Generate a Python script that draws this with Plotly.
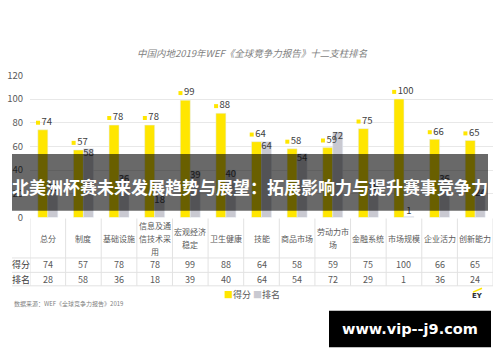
import plotly.graph_objects as go

categories = ["总分", "制度", "基础设施", "信息及通<br>信技术采<br>用", "宏观经济<br>稳定", "卫生健康",
              "技能", "商品市场", "劳动力市<br>场", "金融系统", "市场规模", "企业活力", "创新能力"]
score = [74, 57, 78, 78, 99, 88, 64, 58, 59, 75, 100, 66, 65]
rank = [28, 58, 36, 18, 39, 40, 64, 54, 72, 29, 1, 36, 24]
row_labels = ["得分", "排名"]
title_text = "中国内地2019年WEF《全球竞争力报告》十二支柱排名"
banner_text = "北美洲杯赛未来发展趋势与展望：拓展影响力与提升赛事竞争力"
source_text = "数据来源：WEF《全球竞争力报告》2019"
watermark_text = "www.vip--j9.com"

YELLOW = "#FFE600"
GRAY = "#C9C9D1"
FONT = "Noto Sans CJK SC"
W, H = 500, 362

def py(px):
    return 1 - px / H

def ann(x, y, text, size, color, xref="paper", family=FONT, xanchor="center"):
    return dict(x=x, y=y, xref=xref, yref="paper", text=text, showarrow=False,
                xanchor=xanchor, yanchor="middle", align="center",
                font=dict(size=size, color=color, family=family))

xs = list(range(len(categories)))
fig = go.Figure()
fig.add_trace(go.Bar(x=xs, y=score, width=0.28, offset=-0.28, marker_color=YELLOW,
                     name="得分", showlegend=False, hoverinfo="skip"))
fig.add_trace(go.Bar(x=xs, y=rank, width=0.28, offset=0.0, marker_color=GRAY,
                     name="排名", showlegend=False, hoverinfo="skip"))
# yellow data labels with legend key
fig.add_trace(go.Scatter(x=[i - 0.275 for i in xs], y=[v + 6 for v in score], mode="markers+text",
                         marker=dict(symbol="square", size=4, color=YELLOW),
                         text=[str(v) for v in score], textposition="middle right",
                         textfont=dict(size=9.5, color="#404040", family=FONT),
                         showlegend=False, hoverinfo="skip", cliponaxis=False))
# gray data labels
fig.add_trace(go.Scatter(x=[i + 0.14 for i in xs], y=rank, mode="text",
                         text=[str(v) for v in rank],
                         textposition=["top center" if v < 10 else "bottom center" for v in rank],
                         textfont=dict(size=9.5, color="#404040", family=FONT),
                         showlegend=False, hoverinfo="skip", cliponaxis=False))

shapes = []
annotations = []
# table lines
for ypx in [260, 275, 289]:
    shapes.append(dict(type="line", xref="paper", yref="paper", x0=12 / W, x1=493 / W,
                       y0=py(ypx), y1=py(ypx), line=dict(color="#E2E2E2", width=1)))
for k in range(len(categories) + 1):
    shapes.append(dict(type="line", xref="x", yref="paper", x0=k - 0.5, x1=k - 0.5,
                       y0=py(219), y1=py(289), line=dict(color="#E2E2E2", width=1)))
# table text
LINE_H = 13.5
for i, c in enumerate(categories):
    lines = c.split("<br>")
    top = 239.5 - (len(lines) - 1) * LINE_H / 2
    for j, ln in enumerate(lines):
        annotations.append(ann(i, py(top + j * LINE_H), ln, 8, "#595959", xref="x"))
    annotations.append(ann(i, py(267), str(score[i]), 9, "#595959", xref="x"))
    annotations.append(ann(i, py(282), str(rank[i]), 9, "#595959", xref="x"))
for lbl, ypx in zip(row_labels, [267, 282]):
    annotations.append(ann(21 / W, py(ypx), lbl, 9, "#404040"))
# title
annotations.append(ann(252 / W, py(47), "<i>" + title_text + "</i>", 9.5, "#7F7F7F"))
# legend
annotations.append(ann(252 / W, py(298),
                       f"<span style='color:{YELLOW}'>■</span>得分 <span style='color:{GRAY}'>■</span>排名",
                       9, "#595959"))
# source
annotations.append(ann(12 / W, py(307), source_text, 6, "#7F7F7F", xanchor="left"))
# EY logo
shapes.append(dict(type="line", xref="paper", yref="paper", x0=473 / W, x1=482 / W, y0=py(295.5), y1=py(291.5),
                   line=dict(color=YELLOW, width=1.5)))
annotations.append(ann(477 / W, py(300), "<b>EY</b>", 7, "#2E2E38", family="DejaVu Sans"))
# banner overlay
shapes.append(dict(type="rect", xref="paper", yref="paper", x0=12 / W, x1=488 / W, y0=py(211), y1=py(152),
                   fillcolor="rgba(0,0,0,0.59)", line=dict(width=0), layer="above"))
annotations.append(ann(250 / W, py(186), "<b>" + banner_text + "</b>", 17, "white"))
# watermark
shapes.append(dict(type="rect", xref="paper", yref="paper", x0=329 / W, x1=491 / W, y0=py(353), y1=py(315),
                   fillcolor="black", line=dict(width=0), layer="above"))
annotations.append(ann(410 / W, py(334), "<b>" + watermark_text + "</b>", 14.5, "white", family="DejaVu Sans"))

fig.update_layout(
    width=W, height=H, autosize=False,
    margin=dict(l=0, r=0, t=0, b=0),
    paper_bgcolor="white", plot_bgcolor="white",
    barmode="overlay", showlegend=False,
    font=dict(family=FONT),
    xaxis=dict(domain=[30 / W, 493 / W], range=[-0.5, 12.5], showticklabels=False,
               showgrid=False, zeroline=False, fixedrange=True),
    yaxis=dict(domain=[py(218), py(70)], range=[0, 120], dtick=20, showgrid=True, gridcolor="#E8E8E8",
               zeroline=False, ticks="", ticklabelstandoff=6, fixedrange=True,
               tickfont=dict(size=9.5, color="#595959", family=FONT)),
    shapes=shapes, annotations=annotations,
)
fig.write_html("out.html", config={"displayModeBar": False},
               post_script="document.body.style.margin='0px';")
